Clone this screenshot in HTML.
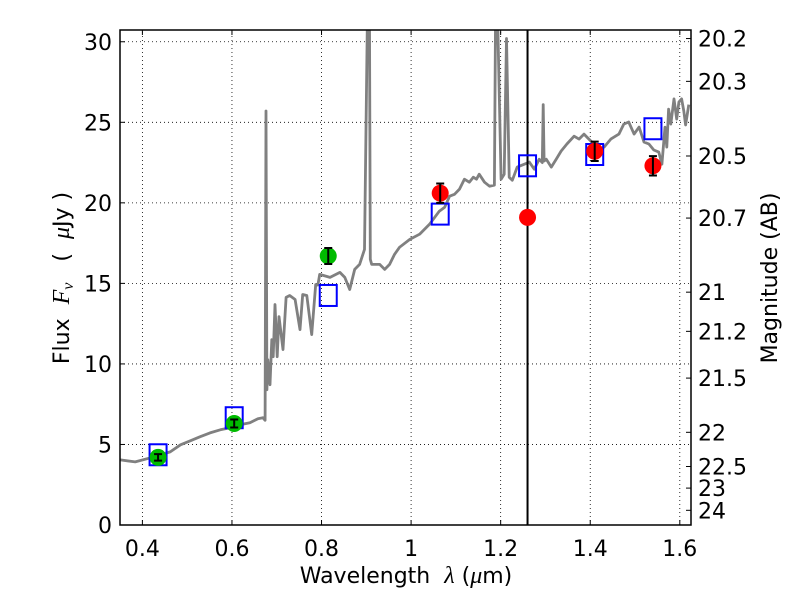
<!DOCTYPE html>
<html><head><meta charset="utf-8"><style>
html,body{margin:0;padding:0;background:#fff}
svg{display:block;font-family:"DejaVu Sans","Liberation Sans",sans-serif}
</style></head><body>
<svg id="chart" width="800" height="600" viewBox="0 0 800 600">
<defs><clipPath id="pc"><rect x="120" y="30" width="571" height="495"/></clipPath></defs>
<rect x="0" y="0" width="800" height="600" fill="#fff"/>
<g id="grid"></g>
<g id="plot" clip-path="url(#pc)"></g>
<rect x="120" y="30" width="571" height="495" fill="none" stroke="#000" stroke-width="1.5"/>
<g id="axes"></g>
<text x="406" y="583" font-size="22" text-anchor="middle" xml:space="preserve">Wavelength  <tspan font-family="Liberation Serif" font-style="italic" font-size="24">λ</tspan> (<tspan font-family="Liberation Serif" font-style="italic" font-size="24">μ</tspan>m)</text>
<text transform="translate(69,278) rotate(-90)" font-size="22" text-anchor="middle" xml:space="preserve">Flux  <tspan font-family="Liberation Serif" font-style="italic" font-size="24">F<tspan font-size="16" dy="4">ν</tspan></tspan><tspan dy="-4">   (  </tspan><tspan font-family="Liberation Serif" font-style="italic" font-size="24">μ</tspan>Jy )</text>
<text transform="translate(777,278) rotate(-90)" font-size="22" text-anchor="middle">Magnitude (AB)</text>
</svg>
<script>
const specLam=[0.351,0.384,0.418,0.440,0.462,0.485,0.507,0.529,0.551,0.574,0.596,0.618,0.640,0.658,0.669,0.674,0.676,0.678,0.680,0.685,0.689,0.692,0.696,0.701,0.705,0.714,0.721,0.729,0.741,0.752,0.758,0.767,0.778,0.787,0.792,0.796,0.819,0.841,0.852,0.863,0.874,0.885,0.896,0.903,0.907,0.909,0.912,0.930,0.941,0.952,0.963,0.974,0.997,1.019,1.041,1.063,1.075,1.086,1.097,1.108,1.119,1.130,1.139,1.146,1.152,1.164,1.175,1.186,1.189,1.192,1.201,1.208,1.213,1.219,1.226,1.237,1.253,1.264,1.275,1.286,1.293,1.295,1.297,1.302,1.313,1.324,1.335,1.348,1.364,1.375,1.386,1.397,1.408,1.420,1.431,1.446,1.464,1.475,1.486,1.498,1.509,1.520,1.531,1.542,1.553,1.560,1.567,1.571,1.575,1.580,1.587,1.593,1.598,1.604,1.609,1.613,1.620];
const specFlux=[4.04,3.92,4.17,4.36,4.54,4.98,5.23,5.48,5.72,5.91,6.04,6.22,6.35,6.60,6.66,6.5,25.7,8.4,10.27,8.71,11.51,10.45,13.69,10.45,12.94,10.89,14.13,14.25,14.0,12.13,14.31,14.25,11.82,14.93,14.9,15.56,15.37,15.68,15.37,14.62,15.87,16.18,17.11,33,33,16.5,16.18,16.18,15.87,16.18,16.8,17.24,17.73,18.05,18.67,19.48,19.73,20.41,20.53,20.85,21.47,21.28,21.59,21.47,21.78,21.28,21.03,21.1,33,33,21.47,21.78,30.2,21.59,21.4,22.22,22.4,22.53,22.09,22.71,22.5,26.1,22.6,22.71,22.22,22.71,23.21,23.65,24.14,23.96,24.27,23.96,23.65,23.34,23.46,23.96,24.27,24.89,25.02,24.27,24.7,23.77,23.65,23.28,23.15,22.4,24.7,23.46,25.82,24.89,26.45,25.2,26.26,26.45,25.7,24.83,26.1];
const photLam=[0.435,0.605,0.815,1.065,1.26,1.41,1.54];
const photFlux=[4.2,6.3,16.7,20.6,19.1,23.2,22.3];
const photErr=[0.2,0.25,0.5,0.6,0,0.6,0.6];
const photColor=['#00bb00','#00bb00','#00bb00','#ff0000','#ff0000','#ff0000','#ff0000'];
const modelFlux=[4.36,6.66,14.25,19.3,22.3,23.0,24.6];
const xTicks=[0.4,0.6,0.8,1.0,1.2,1.4,1.6];
const xTickLabels=['0.4','0.6','0.8','1','1.2','1.4','1.6'];
const yTicks=[0,5,10,15,20,25,30];
const magTicks=[20.2,20.3,20.5,20.7,21,21.2,21.5,22,22.5,23,24];
const vLineLam=1.26;

const NS='http://www.w3.org/2000/svg';
const X0=120,X1=691,Y0=525,Y1=30;
const xmin=0.35,xmax=1.625,ymin=0,ymax=30.73;
const sx=v=>X0+(v-xmin)/(xmax-xmin)*(X1-X0);
const sy=v=>Y0-(v-ymin)/(ymax-ymin)*(Y0-Y1);
function mk(t,a,p){const e=document.createElementNS(NS,t);for(const k in a)e.setAttribute(k,a[k]);p.appendChild(e);return e;}
const grid=document.getElementById('grid'),plot=document.getElementById('plot'),axes=document.getElementById('axes');

xTicks.forEach((v,i)=>{
  const g=mk('line',{x1:sx(v),x2:sx(v),y1:Y0,y2:Y1,stroke:'#000','stroke-width':0.8,'stroke-dasharray':'1,3'},grid);
  
  
  const t=mk('text',{x:sx(v),y:556,'font-size':22,'text-anchor':'middle'},axes);
  t.textContent=xTickLabels[i];
  
  
  mk('line',{x1:sx(v),x2:sx(v),y1:Y0,y2:Y0-5,stroke:'#000'},axes);
  mk('line',{x1:sx(v),x2:sx(v),y1:Y1,y2:Y1+5,stroke:'#000'},axes);
});
yTicks.forEach(v=>{
  const g=mk('line',{x1:X0,x2:X1,y1:sy(v),y2:sy(v),stroke:'#000','stroke-width':0.8,'stroke-dasharray':'1,3'},grid);
  
  
  const t=mk('text',{x:112,y:sy(v)+8,'font-size':22,'text-anchor':'end'},axes);
  t.textContent=String(v);
  
  
  mk('line',{x1:X0,x2:X0+5,y1:sy(v),y2:sy(v),stroke:'#000'},axes);
});
magTicks.forEach(m=>{
  const f=Math.pow(10,(23.9-m)/2.5);
  const y=sy(f);
  mk('line',{x1:X1,x2:X1-5,y1:y,y2:y,stroke:'#000'},axes);
  const t=mk('text',{x:698,y:y+8,'font-size':22},axes);
  t.textContent=String(m);
  
  
});

let d='';
specLam.forEach((l,i)=>{d+=(i?'L':'M')+sx(l).toFixed(1)+','+sy(specFlux[i]).toFixed(1);});
const sp=mk('path',{d:d,fill:'none',stroke:'#808080','stroke-width':2.8,'stroke-linejoin':'round'},plot);



const vl=mk('line',{x1:sx(vLineLam),x2:sx(vLineLam),y1:Y0,y2:Y1,stroke:'#000','stroke-width':2},plot);



photLam.forEach((l,i)=>{
  const r=mk('rect',{x:sx(l)-8.5,y:sy(modelFlux[i])-10.5,width:17,height:21,fill:'none',stroke:'#0000ff','stroke-width':2},plot);
  
  
});
photLam.forEach((l,i)=>{
  const c=mk('circle',{cx:sx(l),cy:sy(photFlux[i]),r:8.5,fill:photColor[i]},plot);
  
  
  if(photErr[i]>0){
    const x=sx(l),ya=sy(photFlux[i]+photErr[i]),yb=sy(photFlux[i]-photErr[i]);
    const e=mk('path',{d:`M${x},${ya}L${x},${yb}M${x-4},${ya}L${x+4},${ya}M${x-4},${yb}L${x+4},${yb}`,stroke:'#000','stroke-width':2,fill:'none'},plot);
    
    
  }
});
</script>
</body></html>
